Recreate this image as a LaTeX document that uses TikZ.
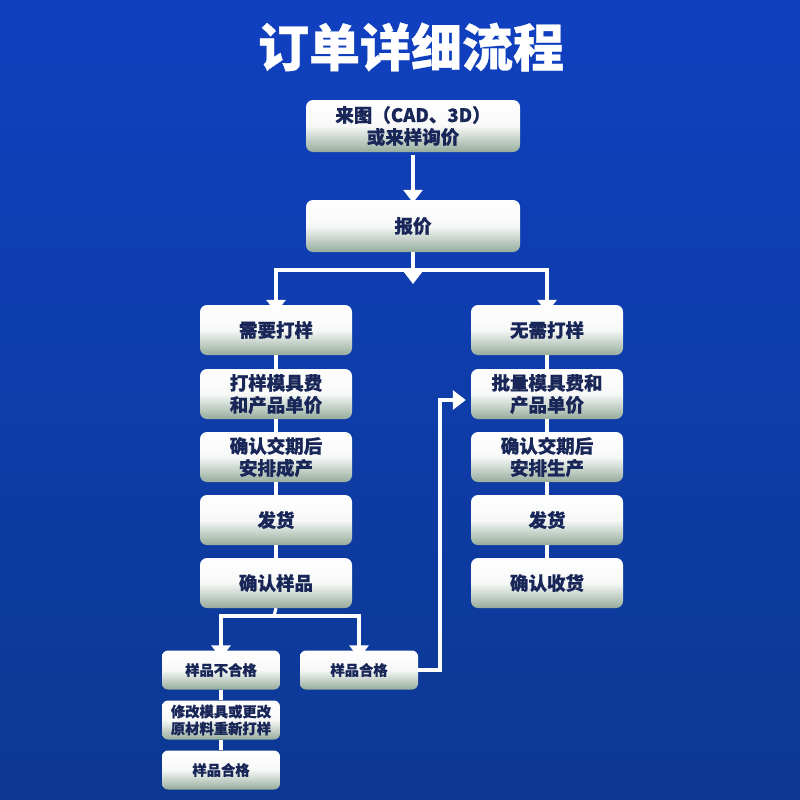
\documentclass[tikz,border=0pt]{standalone}
\usepackage{fontspec}
\newfontfamily\cjk{Noto Sans CJK SC}[BoldFeatures={FakeBold=0.6}]
\usetikzlibrary{arrows.meta,shadings}
\definecolor{bgtop}{RGB}{16,64,192}
\definecolor{bgbot}{RGB}{12,56,146}
\definecolor{boxbot}{RGB}{150,172,156}
\definecolor{txt}{RGB}{24,38,88}
\tikzset{
  box/.style={rounded corners=7pt, top color=white, bottom color=boxbot, middle color=white!92!boxbot,
    text=txt, font=\cjk\bfseries\fontsize{18.5}{22}\selectfont, align=center, inner sep=0pt},
  bigbox/.style={box, minimum width=214pt, minimum height=52pt},
  colbox/.style={box, minimum width=152pt, minimum height=50pt},
  smallbox/.style={box, minimum width=118pt, minimum height=39pt, rounded corners=6pt,
    font=\cjk\bfseries\fontsize{14.3}{17}\selectfont},
  link/.style={draw=white, line width=3.2pt},
  arr/.style={link, -{Triangle[width=19pt,length=13pt]}}
}
\begin{document}
\begin{tikzpicture}[x=1pt,y=-1pt]
\shade[top color=bgtop, bottom color=bgbot] (0,0) rectangle (800,800);
\useasboundingbox (0,0) rectangle (800,800);
\node[text=white, font=\cjk\bfseries\fontsize{51}{56}\selectfont] (title) at (411,47) {订单详细流程};

\node[bigbox] (b1) at (413,126) {来图（CAD、3D）\\或来样询价};
\node[bigbox] (b2) at (413,226) {报价};

\node[colbox] (l1) at (276,330) {需要打样};
\node[colbox] (l2) at (276,394) {打样模具费\\和产品单价};
\node[colbox] (l3) at (276,457) {确认交期后\\安排成产};
\node[colbox] (l4) at (276,520) {发货};
\node[colbox] (l5) at (276,583) {确认样品};

\node[colbox] (r1) at (547,330) {无需打样};
\node[colbox] (r2) at (547,394) {批量模具费和\\产品单价};
\node[colbox] (r3) at (547,457) {确认交期后\\安排生产};
\node[colbox] (r4) at (547,520) {发货};
\node[colbox] (r5) at (547,583) {确认收货};

\node[smallbox] (s1) at (221,670) {样品不合格};
\node[smallbox] (s2) at (359,670) {样品合格};
\node[smallbox] (s3) at (221,720) {修改模具或更改\\原材料重新打样};
\node[smallbox] (s4) at (221,770) {样品合格};

% top arrow
\draw[arr] (b1.south) ++(0,3) -- ([yshift=-3pt]b2.north);
% split after quote
\coordinate (j1) at (413,270);
\coordinate (c1) at (413,284);
\draw[arr] (b2.south) -- (c1);
\draw[arr] (j1) -| ([yshift=-8pt]l1.north);
\draw[arr] (j1) -| ([yshift=-8pt]r1.north);

% column links
\foreach \a/\b in {l1/l2,l2/l3,l3/l4,l4/l5,r1/r2,r2/r3,r3/r4,r4/r5,s1/s3,s3/s4}
  \draw[link] (\a.south) -- (\b.north);

% sample split
\coordinate (j2) at (274,616);
\draw[link] (l5.south) -- (j2);
\draw[arr] (j2) -| ([yshift=-8pt]s1.north);
\draw[arr] (j2) -| ([yshift=-8pt]s2.north);

% back to batch
\coordinate (k1) at (440,670);
\coordinate (k2) at (440,400);
\draw[arr] (s2.east) -- (k1) -- (k2) -- ([xshift=-5pt]r2.west |- k2);
\end{tikzpicture}
\end{document}
